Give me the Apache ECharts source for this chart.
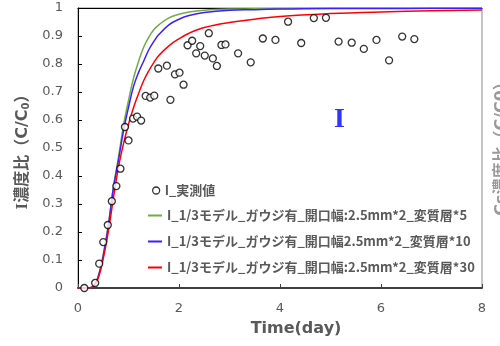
<!DOCTYPE html>
<html>
<head>
<meta charset="utf-8">
<script src="https://cdn.jsdelivr.net/npm/echarts@6/dist/echarts.min.js"></script>
<style>html,body{margin:0;padding:0;background:#fff;}#c{width:500px;height:346px;}</style>
</head>
<body>
<div id="c"></div>
<script>
// measured data (day, C/C0)
var obsT = [0.125,0.34,0.42,0.5,0.59,0.67,0.76,0.84,0.93,1.0,1.09,1.17,1.25,1.34,1.43,1.51,1.59,1.76,1.83,1.92,2.01,2.09,2.17,2.26,2.34,2.42,2.51,2.59,2.67,2.75,2.84,2.92,3.17,3.42,3.66,3.91,4.16,4.42,4.67,4.91,5.16,5.42,5.66,5.91,6.16,6.42,6.66];
var obsV = [0,0.018,0.087,0.164,0.225,0.31,0.364,0.426,0.575,0.527,0.605,0.612,0.598,0.686,0.68,0.687,0.784,0.794,0.672,0.763,0.769,0.726,0.867,0.883,0.838,0.864,0.83,0.91,0.82,0.793,0.868,0.87,0.838,0.806,0.891,0.886,0.951,0.875,0.964,0.965,0.88,0.876,0.854,0.886,0.813,0.898,0.889];

// model curves
var modT   = [0,0.2,0.3,0.4,0.5,0.6,0.7,0.8,0.9,1.0,1.1,1.2,1.3,1.4,1.5,1.6,1.8,2.0,2.2,2.5,3.0,3.5,4.0,5.0,6.0,7.0,8.0];
var green5 = [0,0,0.005,0.04,0.12,0.225,0.36,0.465,0.58,0.67,0.75,0.81,0.86,0.895,0.922,0.94,0.965,0.978,0.986,0.992,0.996,0.997,0.998,0.999,0.999,0.999,0.999];
var blue10 = [0,0,0.005,0.04,0.115,0.22,0.355,0.455,0.56,0.645,0.72,0.77,0.81,0.85,0.88,0.905,0.94,0.96,0.973,0.984,0.992,0.994,0.996,0.998,0.998,0.999,0.999];
var red30  = [0,0,0.005,0.035,0.105,0.2,0.32,0.43,0.515,0.585,0.645,0.695,0.74,0.775,0.805,0.83,0.865,0.89,0.91,0.93,0.948,0.96,0.97,0.98,0.986,0.99,0.993];

var names = ['I_実測値','I_1/3モデル_ガウジ有_開口幅:2.5mm*2_変質層*5','I_1/3モデル_ガウジ有_開口幅2.5mm*2_変質層*10','I_1/3モデル_ガウジ有_開口幅:2.5mm*2_変質層*30'];

function zip(a,b){return a.map(function(x,i){return [x,b[i]];});}

var gray = '#595959';
var legendText = {fontFamily:'Noto Sans CJK JP',fontWeight:'bold',fontSize:13,color:gray};
var chart = echarts.init(document.getElementById('c'), null, {renderer:'canvas'});
chart.setOption({
  animation:false,
  backgroundColor:'#fff',
  grid:{left:78,right:18,top:8,bottom:58,show:true,borderColor:'#8c8c8c',borderWidth:1,backgroundColor:'transparent'},
  legend:[{
    orient:'vertical', left:147, top:179, itemWidth:7, itemHeight:7,
    textStyle:legendText,
    data:[{name:names[0], icon:'circle', itemStyle:{color:'#fff',borderColor:'#000',borderWidth:1.3}}]
  },{
    orient:'vertical', left:143, top:204, itemWidth:14, itemHeight:2, itemGap:13,
    textStyle:legendText,
    data:[
      {name:names[1], icon:'rect'},
      {name:names[2], icon:'rect'},
      {name:names[3], icon:'rect'}
    ]
  }],
  xAxis:[{
    type:'value', min:0, max:8, interval:2,
    name:'Time(day)', nameLocation:'middle', nameGap:33,
    nameTextStyle:{fontFamily:'DejaVu Sans',fontWeight:'bold',fontSize:16,color:gray,padding:[0,0,0,32]},
    axisLine:{show:true,lineStyle:{color:'#404040',width:2}},
    axisTick:{show:true,inside:true,length:4,lineStyle:{color:'#404040'}},
    axisLabel:{fontFamily:'DejaVu Sans',fontSize:13,color:gray,margin:14},
    splitLine:{show:false}
  },{
    type:'value', min:0, max:8, position:'top',
    axisLine:{show:true,onZero:false,lineStyle:{color:'#000',width:1}},
    axisTick:{show:false}, axisLabel:{show:false}, splitLine:{show:false}
  }],
  yAxis:{
    type:'value', min:0, max:1, interval:0.1,
    name:'{i|I}濃度比（C/C{sub|0}）', nameLocation:'middle', nameGap:46, nameRotate:90,
    nameTextStyle:{fontFamily:'DejaVu Sans, Noto Sans CJK JP',fontWeight:'bold',fontSize:16,color:gray,
      rich:{
        i:{fontFamily:'Liberation Serif',fontWeight:'bold',fontSize:17,color:gray},
        sub:{fontFamily:'DejaVu Sans',fontWeight:'bold',fontSize:10,color:gray,verticalAlign:'bottom',padding:[8,0,0,0]}
      }},
    axisLine:{show:true,lineStyle:{color:'#000',width:1}},
    axisTick:{show:true,inside:true,length:4,lineStyle:{color:'#000'}},
    axisLabel:{fontFamily:'DejaVu Sans',fontSize:13,color:gray,margin:15},
    splitLine:{show:false}
  },
  graphic:[
    {type:'text', left:334, top:106, style:{text:'I', font:'bold 28px "Liberation Serif"', fill:'#3333ff'}},
    {type:'text', x:494, y:145, rotation:Math.PI/2, style:{text:'Cs濃度比（C/C0）', font:'bold 16px "DejaVu Sans","Noto Sans CJK JP"', fill:'#9a9a9a', align:'center', verticalAlign:'top'}}
  ],
  series:[
    {name:names[0], type:'scatter', data:zip(obsT,obsV), symbol:'circle', symbolSize:7,
     itemStyle:{color:'#fff',borderColor:'#000',borderWidth:1.3}, z:5},
    {name:names[1], type:'line', data:zip(modT,green5), smooth:0.4, symbol:'none', lineStyle:{color:'#70ad47',width:1.5}, itemStyle:{color:'#70ad47'}},
    {name:names[2], type:'line', data:zip(modT,blue10), smooth:0.4, symbol:'none', lineStyle:{color:'#3d1eff',width:1.5}, itemStyle:{color:'#3d1eff'}},
    {name:names[3], type:'line', data:zip(modT,red30), smooth:0.4, symbol:'none', lineStyle:{color:'#ff0000',width:1.5}, itemStyle:{color:'#ff0000'}}
  ]
});
</script>
</body>
</html>
